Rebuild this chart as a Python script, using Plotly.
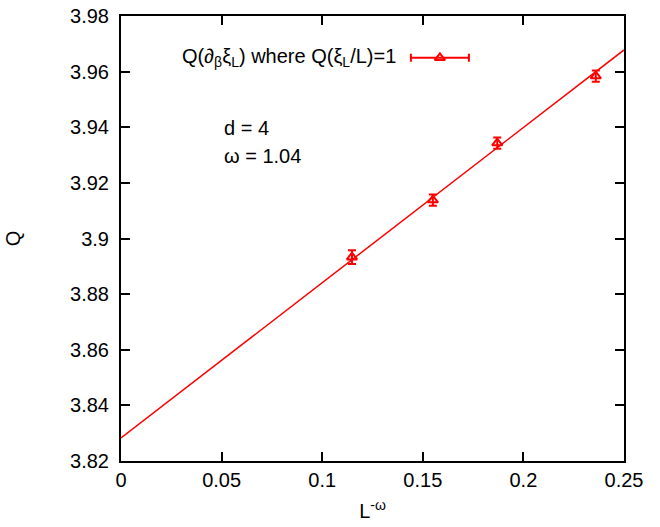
import plotly.graph_objects as go

# data
L_omega = [0.1148, 0.155, 0.187, 0.236]
Q_vals = [3.8933, 3.9138, 3.9343, 3.9584]
Q_err = [0.0025, 0.002, 0.002, 0.002]
fit_x = [0.0, 0.25]
fit_y = [3.8283, 3.9678]
x_ticks = [0, 0.05, 0.1, 0.15, 0.2, 0.25]
x_ticklabels = ["0", "0.05", "0.1", "0.15", "0.2", "0.25"]
y_ticks = [3.82, 3.84, 3.86, 3.88, 3.90, 3.92, 3.94, 3.96, 3.98]
y_ticklabels = ["3.82", "3.84", "3.86", "3.88", "3.9", "3.92", "3.94", "3.96", "3.98"]
legend_label = "Q(∂<sub>β</sub>ξ<sub>L</sub>) where Q(ξ<sub>L</sub>/L)=1"

RED = "#ff0000"
FONT = "Liberation Sans, Arial, sans-serif"
FS = 20

fig = go.Figure()
fig.add_trace(go.Scatter(x=fit_x, y=fit_y, mode="lines",
                         line=dict(color=RED, width=1.5), showlegend=False, hoverinfo="skip"))
fig.add_trace(go.Scatter(x=L_omega, y=Q_vals, mode="markers",
                         marker=dict(symbol="triangle-up-open", size=9, color=RED,
                                     line=dict(color=RED, width=2)),
                         error_y=dict(type="data", array=Q_err, visible=True,
                                      color=RED, thickness=2, width=4),
                         showlegend=False))
# legend sample on an overlay axis (paper-like coordinates)
fig.add_trace(go.Scatter(x=[0.634], y=[0.906], mode="markers", xaxis="x2", yaxis="y2",
                         marker=dict(symbol="triangle-up-open", size=9, color=RED,
                                     line=dict(color=RED, width=2)),
                         error_x=dict(type="data", array=[0.0577], visible=True,
                                      color=RED, thickness=2, width=4),
                         showlegend=False, hoverinfo="skip"))

axis_common = dict(showgrid=False, zeroline=False, showline=True, linecolor="black",
                   linewidth=2, mirror="allticks", ticks="inside", ticklen=9,
                   tickwidth=2, tickcolor="black", automargin=False,
                   tickfont=dict(family=FONT, size=FS, color="black"))

fig.update_layout(
    width=660, height=527,
    margin=dict(l=121, r=36, t=16, b=66),
    plot_bgcolor="white", paper_bgcolor="white",
    font=dict(family=FONT, size=FS, color="black"),
    xaxis=dict(range=[0, 0.25], tickvals=x_ticks, ticktext=x_ticklabels,
               title=dict(text="L<sup>-ω</sup>", font=dict(family=FONT, size=FS), standoff=14),
               **axis_common),
    yaxis=dict(range=[3.82, 3.98], tickvals=y_ticks, ticktext=y_ticklabels,
               ticklabelstandoff=6,
               title=dict(text="Q", font=dict(family=FONT, size=FS), standoff=44),
               **axis_common),
    xaxis2=dict(range=[0, 1], overlaying="x", visible=False),
    yaxis2=dict(range=[0, 1], overlaying="y", visible=False),
    annotations=[
        dict(text=legend_label, xref="paper", yref="paper", x=0.551, y=0.906,
             xanchor="right", yanchor="middle", showarrow=False,
             font=dict(family=FONT, size=FS, color="black")),
        dict(text="d = 4", xref="paper", yref="paper", x=0.2, y=0.748,
             xanchor="left", yanchor="middle", showarrow=False,
             font=dict(family=FONT, size=FS, color="black")),
        dict(text="ω = 1.04", xref="paper", yref="paper", x=0.2, y=0.685,
             xanchor="left", yanchor="middle", showarrow=False,
             font=dict(family=FONT, size=FS, color="black")),
    ],
)

fig.write_html("out.html", config={"displayModeBar": False},
               post_script="document.body.style.margin='0';document.body.style.overflow='hidden';")
